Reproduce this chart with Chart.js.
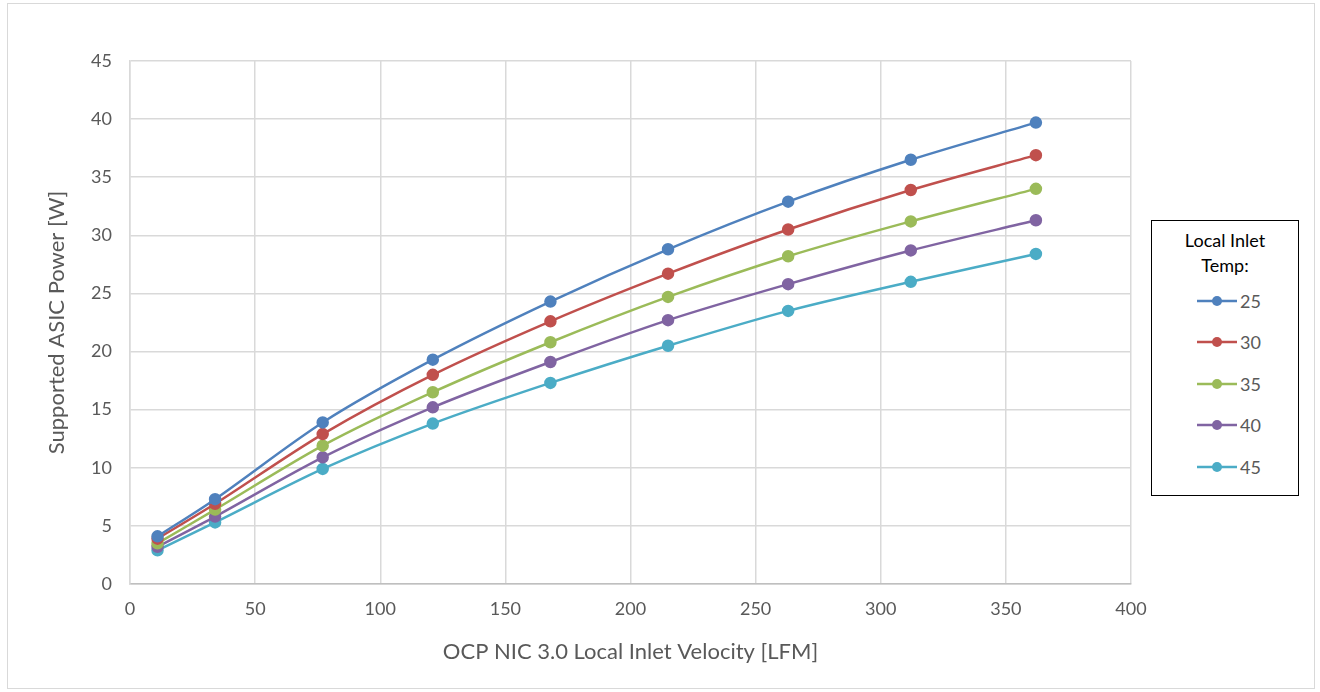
<!DOCTYPE html>
<html>
<head>
<meta charset="utf-8">
<script src="https://cdn.jsdelivr.net/npm/chart.js@4"></script>
<style>
  body { margin: 0; background: #fff; font-family: Lato, "Open Sans", sans-serif; }
  #wrap { position: relative; width: 1320px; height: 692px; }
  #frame { position: absolute; left: 7px; top: 3px; width: 1308px; height: 686px; border: 1px solid #d9d9d9; box-sizing: border-box; pointer-events: none; }
  #legend { position: absolute; left: 1151px; top: 220px; width: 148px; height: 276px; border: 1.5px solid #000; box-sizing: border-box; background: #fff; }
  #legend .title { text-align: center; font-size: 18px; font-weight: normal; color: #000; line-height: 25px; margin-top: 7px; }
  #legend .item { position: absolute; left: 45px; height: 22px; display: flex; align-items: center; font-size: 18px; color: #595959; }
  #legend .item span { margin-left: 3px; }
</style>
</head>
<body>
<div id="wrap">
  <canvas id="chart" width="1320" height="692"></canvas>
  <div id="frame"></div>
  <div id="legend"><div class="title">Local Inlet<br>Temp:</div></div>
</div>
<script>
// ==========================
// DATA
// ==========================

const velocity = [11, 34, 77, 121, 168, 215, 263, 312, 362];

const temps = ["25", "30", "35", "40", "45"];

const power25 = [4.1, 7.3, 13.9, 19.3, 24.3, 28.8, 32.9, 36.5, 39.7];
const power30 = [3.9, 6.9, 12.9, 18.0, 22.6, 26.7, 30.5, 33.9, 36.9];
const power35 = [3.5, 6.4, 11.9, 16.5, 20.8, 24.7, 28.2, 31.2, 34.0];
const power40 = [3.2, 5.8, 10.9, 15.2, 19.1, 22.7, 25.8, 28.7, 31.3];
const power45 = [2.9, 5.3, 9.9, 13.8, 17.3, 20.5, 23.5, 26.0, 28.4];

const xTicks = [0, 50, 100, 150, 200, 250, 300, 350, 400];
const yTicks = [0, 5, 10, 15, 20, 25, 30, 35, 40, 45];

const colors = ["#4f81bd", "#c0504d", "#9bbb59", "#8064a2", "#4bacc6"];

const allPower = [power25, power30, power35, power40, power45];

// ==========================
// DATASETS
// ==========================

function makePoints(values){
  const pts = [];
  for(let i = 0; i < velocity.length; i++){
    pts.push({ x: velocity[i], y: values[i] });
  }
  return pts;
}

const datasets = [];
for(let i = 0; i < temps.length; i++){
  datasets.push({
    label: temps[i],
    data: makePoints(allPower[i]),
    borderColor: colors[i],
    backgroundColor: colors[i],
    borderWidth: 2.5,
    pointRadius: 5,
    pointHoverRadius: 5,
    tension: 0.3,
    fill: false
  });
}

// ==========================
// CHART
// ==========================

const font = "Lato, 'Open Sans', sans-serif";

const chart = new Chart(document.getElementById("chart"), {
  type: "scatter",
  data: { datasets: datasets },
  options: {
    responsive: false,
    animation: false,
    showLine: true,
    layout: { padding: { left: 20, right: 189, top: 61, bottom: 20 } },
    plugins: {
      legend: { display: false },
      tooltip: { enabled: false }
    },
    scales: {
      x: {
        type: "linear",
        min: 0,
        max: 400,
        afterBuildTicks: function(scale){
          scale.ticks = xTicks.map(function(v){ return { value: v }; });
        },
        afterFit: function(scale){ scale.height = 88; },
        grid: { color: "#d9d9d9", lineWidth: 1.5, drawTicks: false },
        border: { color: "#bfbfbf", width: 1.5 },
        ticks: { color: "#595959", padding: 14, font: { family: font, size: 18 } },
        title: {
          display: true,
          text: "OCP NIC 3.0 Local Inlet Velocity [LFM]",
          color: "#595959",
          font: { family: font, size: 22 },
          padding: { top: 0, bottom: 7 }
        }
      },
      y: {
        type: "linear",
        min: 0,
        max: 45,
        afterBuildTicks: function(scale){
          scale.ticks = yTicks.map(function(v){ return { value: v }; });
        },
        afterFit: function(scale){ scale.width = 110; },
        grid: { color: "#d9d9d9", lineWidth: 1.5, drawTicks: false },
        border: { color: "#d9d9d9", width: 1.5 },
        ticks: { color: "#595959", padding: 18, font: { family: font, size: 18 } },
        title: {
          display: true,
          text: "Supported ASIC Power [W]",
          color: "#595959",
          font: { family: font, size: 22 },
          padding: { top: 24, bottom: 0 }
        }
      }
    }
  }
});

// ==========================
// LEGEND
// ==========================

const legend = document.getElementById("legend");
chart.data.datasets.forEach(function(ds, i){
  const row = document.createElement("div");
  row.className = "item";
  row.style.top = (69 + i * 41.4) + "px";
  row.innerHTML =
    '<svg width="40" height="12"><line x1="0" y1="6" x2="40" y2="6" stroke="' + ds.borderColor +
    '" stroke-width="2.5"/><circle cx="20" cy="6" r="5" fill="' + ds.borderColor + '"/></svg>' +
    '<span>' + ds.label + '</span>';
  legend.appendChild(row);
});
</script>
</body>
</html>
